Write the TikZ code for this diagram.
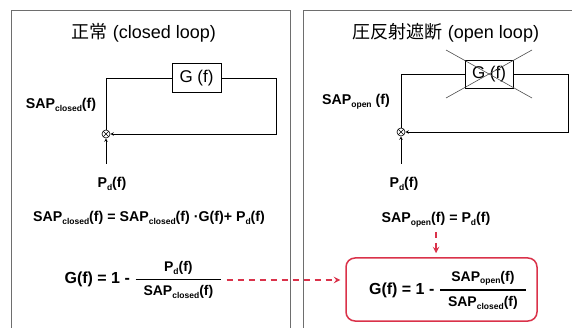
\documentclass[tikz,border=0pt]{standalone}
\usepackage{fontspec}
\setmainfont{Liberation Sans}
\newfontfamily\cjk{Noto Sans CJK JP}
\usepackage{xcolor}
\usetikzlibrary{arrows,shapes,calc}

\definecolor{linkred}{RGB}{218,50,74}
\definecolor{panelgray}{RGB}{110,110,110}

\newcommand{\sub}[1]{\raisebox{-0.4ex}{\fontsize{8.5}{8.5}\selectfont #1}}
\newcommand{\ratio}[2]{$\displaystyle{\hbox{\fontsize{14}{16}\selectfont\bfseries\kern8pt #1\kern8pt}\above 1.2pt\hbox{\fontsize{14}{16}\selectfont\bfseries\kern8pt #2\kern8pt}}$}

\begin{document}
\begin{tikzpicture}[x=1pt, y=-1pt, >=stealth, line width=0.6pt,
  every node/.style={font=\fontsize{14.2}{17}\selectfont\bfseries, inner sep=1pt},
  title/.style={font=\fontsize{18}{21}\selectfont},
  blockbox/.style={draw, minimum width=49pt, minimum height=29pt, inner sep=0pt, font=\fontsize{17}{20}\selectfont},
  sumnode/.style={draw, circle, minimum size=8pt, inner sep=0pt,
    path picture={\draw[line width=0.5pt] (path picture bounding box.north west) -- (path picture bounding box.south east)
      (path picture bounding box.north east) -- (path picture bounding box.south west);}},
  formula/.style={font=\fontsize{16}{19}\selectfont\bfseries},
  redlink/.style={->, draw=linkred, line width=1.8pt, dash pattern=on 6pt off 5pt},
  panel/.style={draw=panelgray, line width=0.7pt}]

\useasboundingbox (0,0) rectangle (572,328);
\clip (0,0) rectangle (572,328);

% panels
\draw[panel] (11,340) -- (11,10) -- (290,10) -- (290,340);
\draw[panel] (303,340) -- (303,10) -- (590,10);

% closed loop
\node[title] (t1) at (144,33) {{\cjk 正常} (closed loop)};
\node[blockbox] (g1) at (196.5,78) {G (f)};
\node[sumnode] (s1) at (106,134) {};
\coordinate (fb1) at (276,134);
\coordinate (in1) at (106,164);
\draw (s1) |- (g1.west);
\draw[->] (g1.east) -| (fb1) -- (s1.east);
\draw[->] (in1) -- (s1.south);
\node (sapc) at (61,105) {SAP\sub{closed}(f)};
\node (pd1) at (112,184) {P\sub{d}(f)};

% open loop
\node[title] (t2) at (446,33) {{\cjk 圧反射遮断} (open loop)};
\node[blockbox, minimum width=48pt, minimum height=28pt] (g2) at (489,74) {G (f)};
\node[sumnode] (s2) at (401,132) {};
\coordinate (fb2) at (568,132);
\coordinate (in2) at (401,164);
\draw (s2) |- (g2.west);
\draw[->] (g2.east) -| (fb2) -- (s2.east);
\draw[->] (in2) -- (s2.south);
\draw[black!70] ($(g2.center)+(-43,-24)$) -- ($(g2.center)+(43,24)$);
\draw[black!70] ($(g2.center)+(-43,24)$) -- ($(g2.center)+(43,-24)$);
\node (sapo) at (356,102) {SAP\sub{open} (f)};
\node (pd2) at (404,184) {P\sub{d}(f)};

% equations
\node (eq1) at (149,218) {SAP\sub{closed}(f) = SAP\sub{closed}(f) ·G(f)+ P\sub{d}(f)};
\node[formula] (gf1) at (143.5,280) {G(f) = 1 - \ratio{P\sub{d}(f)}{SAP\sub{closed}(f)}};
\node (eq2) at (436,220) {SAP\sub{open}(f) = P\sub{d}(f)};
\node[draw=linkred, line width=1.5pt, rounded corners=9pt, minimum width=191pt, minimum height=63pt] (rb) at (441.5,289.5) {};
\node[formula] (gf2) at (448,290) {G(f) = 1 - \ratio{SAP\sub{open}(f)}{SAP\sub{closed}(f)}};

\draw[redlink, shorten <=3pt, shorten >=5pt] (gf1.east) -- (gf1.east -| rb.west);
\draw[redlink, shorten <=3pt, shorten >=4pt] (eq2.south) -- (eq2.south |- rb.north);
\end{tikzpicture}
\end{document}
